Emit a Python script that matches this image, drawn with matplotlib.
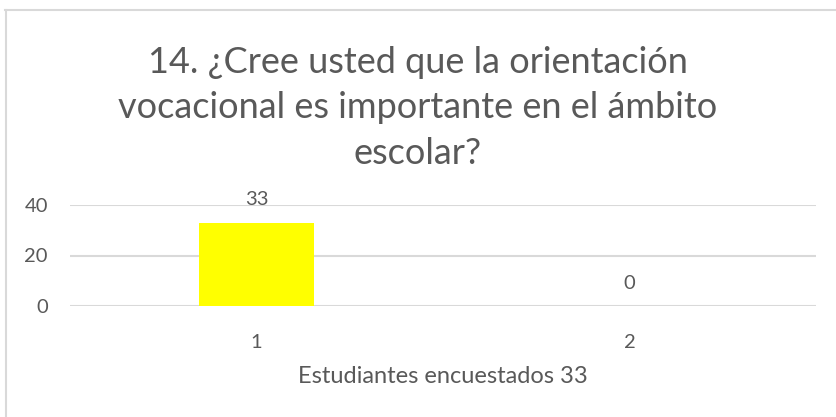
import matplotlib.pyplot as plt
from matplotlib.lines import Line2D

# data
categorias = ["1", "2"]
valores = [33, 0]
titulo = "14. ¿Cree usted que la orientación\nvocacional es importante en el ámbito\nescolar?"
eje_x = "Estudiantes encuestados 33"
y_ticks = [0, 20, 40]

gris = "#595959"
plt.rcParams['font.family'] = ['Lato', 'DejaVu Sans']

W, H = 836, 417
fig = plt.figure(figsize=(W / 100, H / 100), dpi=100)

# chart border (only top and left visible in the crop)
fig.add_artist(Line2D([5 / W, 1], [1 - 10 / H, 1 - 10 / H], color="#d9d9d9", lw=1.5))
fig.add_artist(Line2D([6 / W, 6 / W], [0, 1 - 10 / H], color="#d9d9d9", lw=1.5))

ax = fig.add_axes([70 / W, 1 - 306 / H, (816 - 70) / W, (306 - 205) / H])
x = range(len(categorias))
ax.bar(x, valores, width=0.31, color="#ffff00", zorder=3)
ax.set_xlim(-0.5, 1.5)
ax.set_ylim(0, 40)
ax.set_yticks(y_ticks)
ax.set_xticks(list(x))
ax.set_xticklabels(categorias)
ax.grid(axis="y", color="#d9d9d9", lw=1.5, zorder=0)
for s in ax.spines.values():
    s.set_visible(False)
ax.tick_params(length=0, labelsize=14.5, colors=gris)
ax.tick_params(axis="x", pad=20)
ax.tick_params(axis="y", pad=16)
ax.set_xlabel(eje_x, fontsize=17, color=gris, labelpad=11)

for xi, v in zip(x, valores):
    ax.annotate(str(v), (xi, v), xytext=(0, 16.5), textcoords="offset points",
                ha="center", va="center", fontsize=14.5, color=gris)

fig.text(418 / W, 1 - 108 / H, titulo, ha="center", va="center",
         fontsize=26, color=gris, linespacing=1.45)

fig.savefig("out.png", dpi=100)
